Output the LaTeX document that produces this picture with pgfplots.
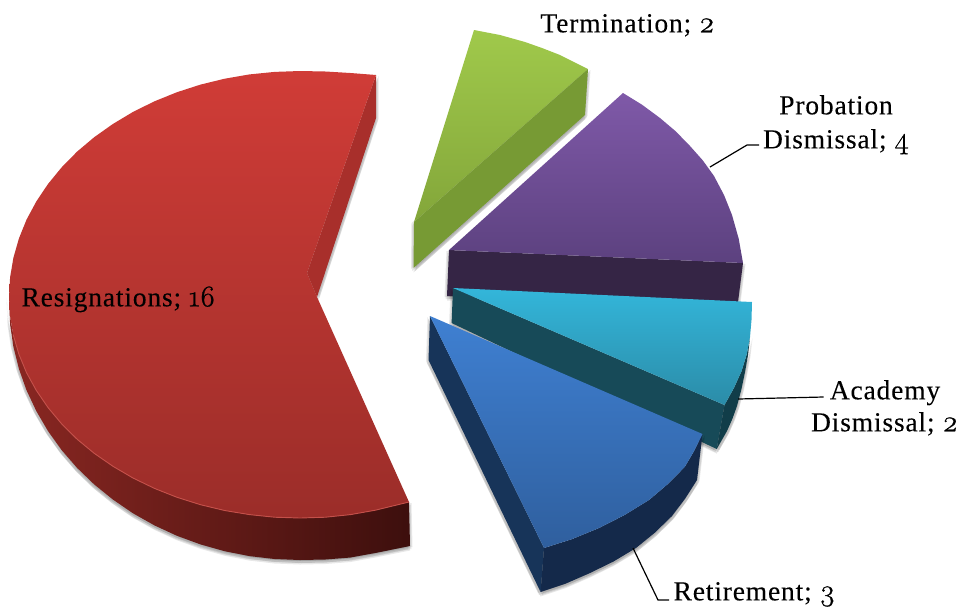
\documentclass[border=0pt]{standalone}
\usepackage{pgfplots}
\usepackage{pgfplotstable}
\usepackage{fontspec}
\pgfplotsset{compat=1.18}
\setmainfont{Liberation Serif}[LetterSpace=3.0,FakeBold=0.15]
\newfontfamily\digs[Numbers=OldStyle,FakeBold=0.8]{Latin Modern Roman}
\newcommand{\dg}[1]{{\digs\fontsize{30}{30}\selectfont #1}}
% outlines: pixel positions
\pgfplotstableread{
x y
376 75
350.5 73
325.4 71.5
300 71
274.6 71.9
249.5 74.4
224.7 78.7
200.5 84.6
177 92.2
154.5 101.3
133 111.9
113 123.9
94.2 137.2
77 151.7
61.6 167.4
48 184
36.3 201.5
26.5 219.7
18.9 238.5
13.4 257.8
10.1 277.3
9 297
10.1 316.3
13.4 335.4
18.9 354.2
26.5 372.6
36.3 390.4
48 407.5
61.6 423.8
77 439.1
94.2 453.3
113 466.3
133 478
154.5 488.4
177 497.3
200.5 504.7
224.7 510.5
249.5 514.6
274.6 517.2
300 518
325.4 517.2
350.5 514.6
375.3 510.2
409 502
317 297
307 273
}\redtop
\pgfplotstableread{
x y
376 75
376 118
317 297
307 273
}\redpanel
\pgfplotstableread{
x y
9 297
10.1 316.3
13.4 335.4
18.9 354.2
26.5 372.6
36.3 390.4
48 407.5
61.6 423.8
77 439.1
94.2 453.3
113 466.3
133 478
154.5 488.4
177 497.3
200.5 504.7
224.7 510.5
249.5 514.6
274.6 517.2
300 518
325.4 517.2
350.5 514.6
375.3 510.2
409 502
410 546
375.3 553
350.5 557.5
325.4 559.5
300 560
274.6 559
249.5 556.1
224.7 551.2
200.5 544.4
177 535.8
154.5 525.4
133 513.3
113 499.6
94.2 484.4
77 467.8
61.6 450
48 431
36.3 411
26.5 390.2
18.9 368.8
13.4 346.8
10.1 324.5
}\redside
\pgfplotstableread{
x y
13.4 335.4
18.9 354.2
26.5 372.6
36.3 390.4
48 407.5
61.6 423.8
77 439.1
94.2 453.3
113 466.3
133 478
154.5 488.4
177 497.3
200.5 504.7
224.7 510.5
249.5 514.6
274.6 517.2
300 518
325.4 517.2
350.5 514.6
375.3 510.2
409 502
}\redrim
\pgfplotstableread{
x y
474 30
500 35
525 42
542 48
560 55
574 62
588 69
414 222
}\greentop
\pgfplotstableread{
x y
588 69
585 115
413.5 268
414 222
}\greenside
\pgfplotstableread{
x y
623 93
642 104.7
660 118
675.7 131.3
690 146
702.8 160.4
714 176
724 195
732 215
738.7 238.7
743 263
449 250
}\purpletop
\pgfplotstableread{
x y
449 250
743 263
738 302
447 296
}\purpleside
\pgfplotstableread{
x y
453 288
752 302
751.5 320
750 337
746.8 354
741.6 371
733.9 388
724.5 405
}\cyantop
\pgfplotstableread{
x y
453 288
724.5 405
716.7 449
451.6 323
}\cyanband
\pgfplotstableread{
x y
750 337
746.8 354
741.6 371
733.9 388
724.5 405
716.7 449
727 431
732.4 418.8
737 406
741.4 389.3
745 372
748 355
}\cyanouter
\pgfplotstableread{
x y
430 316
702.5 434
694.2 450.8
684.7 467
667.6 484.2
649 500
624.6 515
599 528
572 539.1
544 548
}\bluetop
\pgfplotstableread{
x y
430 316
544 548
540.6 592
428.5 360
}\bluepanel
\pgfplotstableread{
x y
544 548
572 539.1
599 528
624.6 515
649 500
667.6 484.2
684.7 467
694.2 450.8
702.5 434
697 480
685.2 498.5
672 516
654.7 532.8
636 548
613.5 561.5
590 573
565.7 583.6
540.6 592
}\blueouter
\definecolor{redA}{HTML}{D03C37}
\definecolor{redB}{HTML}{9B2D29}
\definecolor{redP}{HTML}{A82F2B}
\definecolor{redS1}{HTML}{8A2722}
\definecolor{redS2}{HTML}{5A1915}
\definecolor{redS3}{HTML}{3D0F0D}
\definecolor{redR}{HTML}{C4504A}
\definecolor{greenA}{HTML}{A0C94B}
\definecolor{greenB}{HTML}{83A63A}
\definecolor{greenS}{HTML}{779A34}
\definecolor{purpA}{HTML}{7F59A8}
\definecolor{purpB}{HTML}{5C417F}
\definecolor{purpS}{HTML}{352545}
\definecolor{cyanA}{HTML}{33B6DA}
\definecolor{cyanB}{HTML}{2B8CA8}
\definecolor{cyanS}{HTML}{174A58}
\definecolor{cyanO}{HTML}{113D49}
\definecolor{blueA}{HTML}{3F80D2}
\definecolor{blueB}{HTML}{2F5F9E}
\definecolor{blueS}{HTML}{173459}
\definecolor{blueO}{HTML}{14294A}
\pgfplotsset{
 face/.style={draw=none},
 shad/.style 2 args={draw=none,fill=black,fill opacity=0.09,xshift=#1,yshift=#2},
}
\newcommand{\shadow}[1]{%
 \addplot[shad={-2.5pt}{-1pt}] table {#1};
 \addplot[shad={2.5pt}{-1pt}] table {#1};
 \addplot[shad={-1.5pt}{-3pt}] table {#1};
 \addplot[shad={1.5pt}{-3pt}] table {#1};
 \addplot[shad={0pt}{-4.5pt}] table {#1};
}
\begin{document}
\begin{tikzpicture}
\useasboundingbox (0,0) rectangle (957pt,606pt);
\fontsize{27.5}{32}\selectfont
\begin{axis}[
 at={(0,0)},anchor=south west,
 width=957pt,height=606pt,scale only axis,
 xmin=0,xmax=957,ymin=0,ymax=606,y dir=reverse,
 hide axis,clip=false,
]
% red
\shadow{\redpanel}
\shadow{\redside}
\addplot[face,left color=redS1,middle color=redS2,right color=redS3] table {\redside};
\addplot[face,fill=redP] table {\redpanel};
\addplot[face,top color=redA,bottom color=redB] table {\redtop};
\addplot[draw=redR,line width=0.9pt] table {\redrim};
% green
\shadow{\greenside}
\addplot[face,top color=greenA,bottom color=greenB] table {\greentop};
\addplot[face,fill=greenS] table {\greenside};
% purple
\shadow{\purpleside}
\addplot[face,fill=purpS] table {\purpleside};
\addplot[face,top color=purpA,bottom color=purpB] table {\purpletop};
% cyan
\shadow{\cyanband}
\shadow{\cyanouter}
\addplot[face,fill=cyanS] table {\cyanband};
\addplot[face,fill=cyanO] table {\cyanouter};
\addplot[face,top color=cyanA,bottom color=cyanB] table {\cyantop};
% blue
\shadow{\bluepanel}
\shadow{\blueouter}
\addplot[face,fill=blueS] table {\bluepanel};
\addplot[face,fill=blueO] table {\blueouter};
\addplot[face,top color=blueA,bottom color=blueB] table {\bluetop};
% leaders
\addplot[black,line width=1.2pt] coordinates {(710,167) (747,145) (759,145)};
\addplot[black,line width=1.2pt] coordinates {(738,399) (823.5,397)};
\addplot[black,line width=1.2pt] coordinates {(633,548) (658,600) (669,600)};
% labels
\node[anchor=mid] at (axis cs:627.5,26) {Termination; \dg{2}};
\node[anchor=mid] at (axis cs:836,108) {Probation};
\node[anchor=mid] at (axis cs:836,142) {Dismissal; \dg{4}};
\node[anchor=mid] at (axis cs:885,393) {Academy};
\node[anchor=mid] at (axis cs:884.5,425) {Dismissal; \dg{2}};
\node[anchor=mid] at (axis cs:754.5,594) {Retirement; \dg{3}};
\node[anchor=mid] at (axis cs:118.5,300) {Resignations; \dg{16}};
\end{axis}
\end{tikzpicture}
\end{document}
